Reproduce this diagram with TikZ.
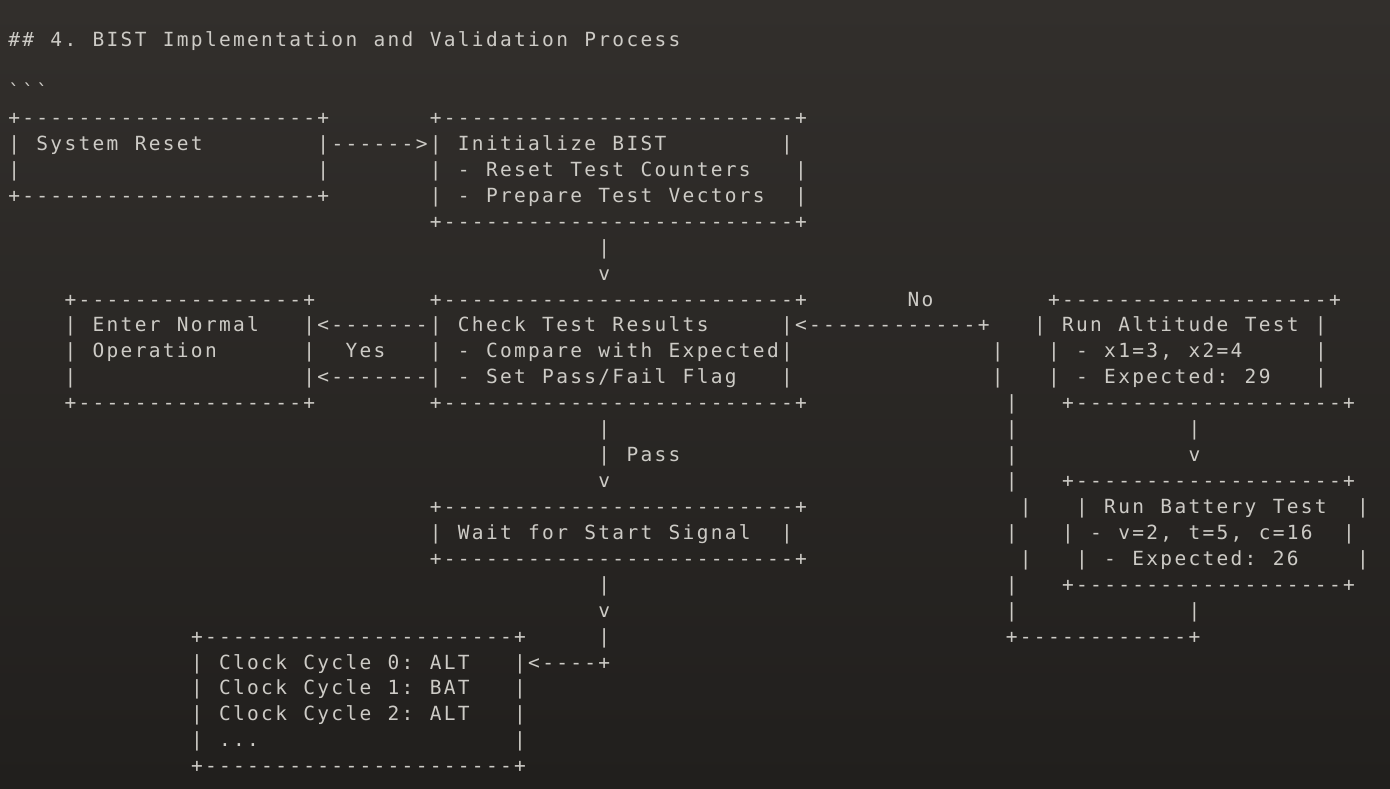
\documentclass[tikz,border=0pt]{standalone}
\usepackage{fontspec}
\setmonofont{DejaVu Sans Mono}
\usepackage{tikz}

\definecolor{asciigray}{RGB}{205,203,198}
\definecolor{bgtop}{RGB}{50,47,44}
\definecolor{bgbottom}{RGB}{33,31,29}

% one fixed cell per character, ~ is an empty cell
\newcommand{\cell}[1]{\makebox[14.05pt]{#1}}
\ExplSyntaxOn
\NewDocumentCommand{\asc}{m}
  {
    \str_map_inline:nn {#1}
      {
        \str_if_eq:eeTF {##1} {\c_tilde_str}
          { \makebox[14.05pt]{} }
          { \makebox[14.05pt]{##1} }
      }
  }
\ExplSyntaxOff

\begin{document}
\begin{tikzpicture}[x=14.05pt, y=-25.93pt,
  ascii/.style={anchor=base west, inner sep=0pt, text=asciigray,
    font=\ttfamily\fontsize{19.5pt}{26pt}\selectfont}]

% background
      \shade[top color=bgtop, bottom color=bgbottom] (-7pt,46.7pt) rectangle (1383pt,-741.3pt);
      \useasboundingbox (-7pt,46.7pt) rectangle (1383pt,-741.3pt);

% Heading
      \node[ascii] (title) at (0,0) {\cell{\#}\cell{\#}\asc{ 4. BIST Implementation and Validation Process}};
      \node[ascii] (fence) at (0,2) {\asc{```}};

% System Reset
      \node[ascii] (reset-t) at (0,3) {\asc{+---------------------+}};
      \node[ascii] (reset-a) at (0,4) {\asc{| System Reset~~~~~~~~|}};
      \node[ascii] (reset-l) at (0,5) {\asc{|}};
      \node[ascii] (reset-r) at (22,5) {\asc{|}};
      \node[ascii] (reset-b) at (0,6) {\asc{+---------------------+}};
      \node[ascii] (reset-arr) at (23,4) {\asc{------>}};

% Initialize BIST
      \node[ascii] (init-t) at (30,3) {\asc{+-------------------------+}};
      \node[ascii] (init-a) at (30,4) {\asc{| Initialize BIST~~~~~~~~|}};
      \node[ascii] (init-b) at (30,5) {\asc{| - Reset Test Counters~~~|}};
      \node[ascii] (init-c) at (30,6) {\asc{| - Prepare Test Vectors~~|}};
      \node[ascii] (init-bt) at (30,7) {\asc{+-------------------------+}};
      \node[ascii] (init-s) at (42,8) {\asc{|}};
      \node[ascii] (init-v) at (42,9) {\asc{v}};

% Enter Normal Operation
      \node[ascii] (normal-t) at (4,10) {\asc{+----------------+}};
      \node[ascii] (normal-a) at (4,11) {\asc{| Enter Normal~~~|}};
      \node[ascii] (normal-b) at (4,12) {\asc{| Operation~~~~~~|}};
      \node[ascii] (normal-c) at (4,13) {\asc{|}};
      \node[ascii] (normal-bt) at (4,14) {\asc{+----------------+}};
      \node[ascii] (yes-a) at (22,11) {\asc{<-------}};
      \node[ascii] (yes) at (24,12) {\asc{Yes}};
      \node[ascii] (yes-b) at (21,13) {\asc{|<-------}};

% Check Test Results
      \node[ascii] (check-t) at (30,10) {\asc{+-------------------------+}};
      \node[ascii] (check-a) at (30,11) {\asc{| Check Test Results~~~~~|}};
      \node[ascii] (check-b) at (30,12) {\asc{| - Compare with Expected|}};
      \node[ascii] (check-c) at (30,13) {\asc{| - Set Pass/Fail Flag~~~|}};
      \node[ascii] (check-bt) at (30,14) {\asc{+-------------------------+}};
      \node[ascii] (pass-a) at (42,15) {\asc{|}};
      \node[ascii] (pass-b) at (42,16) {\asc{| Pass}};
      \node[ascii] (pass-v) at (42,17) {\asc{v}};

% No branch
      \node[ascii] (no) at (64,10) {\asc{No}};
      \node[ascii] (no-a) at (56,11) {\asc{<------------+}};
      \node[ascii] (no-b) at (70,12) {\asc{|}};
      \node[ascii] (no-c) at (70,13) {\asc{|}};
      \foreach \r in {14,15,16,17,19,21,22}
        \node[ascii] (side-\r) at (71,\r) {\asc{|}};
      \foreach \r in {18,20}
        \node[ascii] (side-\r) at (72,\r) {\asc{|}};
      \node[ascii] (loop-bt) at (71,23) {\asc{+------------+}};

% Run Altitude Test
      \node[ascii] (alt-t) at (74,10) {\asc{+-------------------+}};
      \node[ascii] (alt-a) at (73,11) {\asc{| Run Altitude Test |}};
      \node[ascii] (alt-b) at (74,12) {\asc{| - x1=3, x2=4~~~~~|}};
      \node[ascii] (alt-c) at (74,13) {\asc{| - Expected: 29~~~|}};
      \node[ascii] (alt-bt) at (75,14) {\asc{+-------------------+}};
      \node[ascii] (alt-s) at (84,15) {\asc{|}};
      \node[ascii] (alt-v) at (84,16) {\asc{v}};

% Run Battery Test
      \node[ascii] (bat-t) at (75,17) {\asc{+-------------------+}};
      \node[ascii] (bat-a) at (76,18) {\asc{| Run Battery Test~~|}};
      \node[ascii] (bat-b) at (75,19) {\asc{| - v=2, t=5, c=16~~|}};
      \node[ascii] (bat-c) at (76,20) {\asc{| - Expected: 26~~~~|}};
      \node[ascii] (bat-bt) at (75,21) {\asc{+-------------------+}};
      \node[ascii] (bat-s) at (84,22) {\asc{|}};

% Wait for Start Signal
      \node[ascii] (wait-t) at (30,18) {\asc{+-------------------------+}};
      \node[ascii] (wait-a) at (30,19) {\asc{| Wait for Start Signal~~|}};
      \node[ascii] (wait-bt) at (30,20) {\asc{+-------------------------+}};
      \node[ascii] (go-a) at (42,21) {\asc{|}};
      \node[ascii] (go-v) at (42,22) {\asc{v}};
      \node[ascii] (go-b) at (42,23) {\asc{|}};
      \node[ascii] (go-c) at (37,24) {\asc{<----+}};

% Clock cycles
      \node[ascii] (clock-t) at (13,23) {\asc{+----------------------+}};
      \node[ascii] (clock-a) at (13,24) {\asc{| Clock Cycle 0: ALT~~~|}};
      \node[ascii] (clock-b) at (13,25) {\asc{| Clock Cycle 1: BAT~~~|}};
      \node[ascii] (clock-c) at (13,26) {\asc{| Clock Cycle 2: ALT~~~|}};
      \node[ascii] (clock-d) at (13,27) {\asc{| ...}};
      \node[ascii] (clock-dr) at (36,27) {\asc{|}};
      \node[ascii] (clock-bt) at (13,28) {\asc{+----------------------+}};

    \end{tikzpicture}
\end{document}
